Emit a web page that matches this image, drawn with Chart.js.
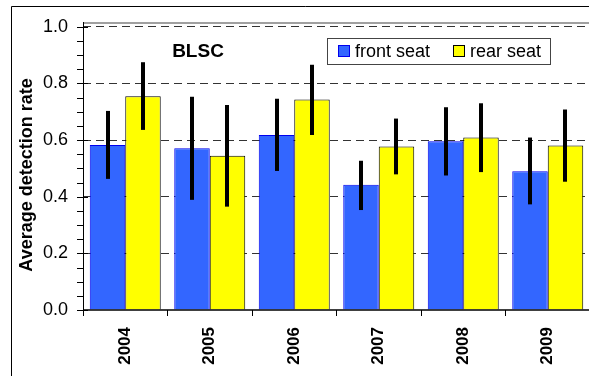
<!DOCTYPE html>
<html>
<head>
<meta charset="utf-8">
<script src="https://cdn.jsdelivr.net/npm/chart.js@4.4.1/dist/chart.umd.min.js"></script>
<style>
html,body{margin:0;padding:0;background:#fff;overflow:hidden;}
#wrap{position:absolute;left:0;top:0;width:600px;height:390px;}
canvas{display:block;}
</style>
</head>
<body>
<div id="wrap"><canvas id="c" width="600" height="390" style="width:600px;height:390px"></canvas></div>
<script>
const years = ['2004','2005','2006','2007','2008','2009'];
const frontSeat = [0.583, 0.571, 0.618, 0.442, 0.596, 0.490];
const frontLow  = [0.463, 0.389, 0.491, 0.353, 0.475, 0.373];
const frontHigh = [0.703, 0.753, 0.746, 0.527, 0.716, 0.609];
const rearSeat  = [0.755, 0.545, 0.743, 0.577, 0.609, 0.581];
const rearLow   = [0.636, 0.365, 0.618, 0.479, 0.487, 0.453];
const rearHigh  = [0.875, 0.724, 0.866, 0.676, 0.730, 0.708];
const seriesNames = ['front seat', 'rear seat'];
const panelTitle = 'BLSC';
const yTitle = 'Average detection rate';

const FONT = '"Liberation Sans", Arial, sans-serif';
const isMajor = v => Math.abs(v / 0.2 - Math.round(v / 0.2)) < 1e-6;

const overlay = {
  id: 'overlay',
  afterDatasetsDraw(chart) {
    const ctx = chart.ctx, ys = chart.scales.y;
    ctx.save();
    ctx.strokeStyle = '#000';
    ctx.lineWidth = 4;
    ctx.lineCap = 'butt';
    chart.data.datasets.forEach((ds, di) => {
      const meta = chart.getDatasetMeta(di);
      meta.data.forEach((bar, i) => {
        const x = Math.round(bar.x);
        ctx.beginPath();
        ctx.moveTo(x, ys.getPixelForValue(ds.errHigh[i]));
        ctx.lineTo(x, ys.getPixelForValue(ds.errLow[i]));
        ctx.stroke();
      });
    });
    ctx.restore();
  },
  afterDraw(chart) {
    const ctx = chart.ctx, a = chart.chartArea, ys = chart.scales.y;
    ctx.save();
    // grey top border of plot area
    ctx.strokeStyle = '#a0a0a0';
    ctx.lineWidth = 2;
    ctx.beginPath();
    ctx.moveTo(a.left, a.top + 1);
    ctx.lineTo(a.right, a.top + 1);
    ctx.stroke();
    // y axis line
    ctx.strokeStyle = '#000';
    ctx.lineWidth = 1;
    ctx.beginPath();
    ctx.moveTo(a.left + 0.5, a.top);
    ctx.lineTo(a.left + 0.5, a.bottom);
    ctx.stroke();
    // y tick marks
    ys.ticks.forEach(t => {
      const p = Math.round(ys.getPixelForValue(t.value)) + 0.5;
      ctx.beginPath();
      ctx.moveTo(a.left - 6, p);
      ctx.lineTo(isMajor(t.value) ? a.left + 5 : a.left, p);
      ctx.stroke();
    });
    // x axis baseline
    ctx.lineWidth = 1.5;
    const y0 = ys.getPixelForValue(0);
    ctx.beginPath();
    ctx.moveTo(a.left, y0);
    ctx.lineTo(a.right, y0);
    ctx.stroke();
    // outer frame
    ctx.lineWidth = 1;
    ctx.beginPath();
    ctx.moveTo(11.5, 400);
    ctx.lineTo(11.5, 6.5);
    ctx.lineTo(600, 6.5);
    ctx.stroke();
    // y title
    ctx.fillStyle = '#000';
    ctx.font = 'bold 18px ' + FONT;
    ctx.textAlign = 'center';
    ctx.textBaseline = 'middle';
    ctx.save();
    ctx.translate(27, 175);
    ctx.rotate(-Math.PI / 2);
    ctx.fillText(yTitle, 0, 0);
    ctx.restore();
    // panel title
    ctx.font = 'bold 19px ' + FONT;
    ctx.textBaseline = 'alphabetic';
    ctx.fillText(panelTitle, 198, 57);
    // legend
    ctx.fillStyle = '#fff';
    ctx.fillRect(327, 38, 223, 26);
    ctx.strokeStyle = '#444';
    ctx.lineWidth = 1;
    ctx.strokeRect(327.5, 38.5, 223, 26);
    const lx = [338, 453];
    chart.data.datasets.forEach((ds, i) => {
      ctx.fillStyle = ds.backgroundColor;
      ctx.fillRect(lx[i], 45, 12, 12);
      ctx.strokeStyle = ds.borderColor;
      ctx.strokeRect(lx[i] + 0.5, 45.5, 11, 11);
      ctx.fillStyle = '#000';
      ctx.font = '18px ' + FONT;
      ctx.textAlign = 'left';
      ctx.fillText(ds.label, lx[i] + 17, 57);
    });
    ctx.restore();
  }
};

new Chart(document.getElementById('c'), {
  type: 'bar',
  data: {
    labels: years,
    datasets: [
      { label: seriesNames[0], data: frontSeat, errLow: frontLow, errHigh: frontHigh,
        backgroundColor: '#3366ff', borderColor: '#0000ee', borderWidth: 1 },
      { label: seriesNames[1], data: rearSeat, errLow: rearLow, errHigh: rearHigh,
        backgroundColor: '#ffff00', borderColor: '#000000', borderWidth: 1 }
    ]
  },
  options: {
    responsive: false,
    animation: false,
    devicePixelRatio: 1,
    categoryPercentage: 0.84,
    barPercentage: 1.0,
    layout: { padding: { left: 0, top: 22, right: 10, bottom: 0 } },
    plugins: { legend: { display: false }, tooltip: { enabled: false } },
    scales: {
      x: {
        grid: { display: true, drawOnChartArea: false, drawTicks: true, tickLength: 6,
                color: '#000', tickColor: '#000', offset: true },
        border: { display: false },
        ticks: { maxRotation: 90, minRotation: 90, padding: 11, color: '#000',
                 font: { family: FONT, size: 17, weight: 'bold' } },
        afterFit(s) { s.height = 80; s.paddingLeft = 0; s.paddingRight = 0; }
      },
      y: {
        min: 0, max: 1.017,
        grid: {
          drawTicks: false,
          lineWidth: 1,
          color: ctx => (ctx.tick && isMajor(ctx.tick.value) && ctx.tick.value > 0) ? '#333' : 'rgba(0,0,0,0)'
        },
        border: { display: false, dash: [8, 5] },
        ticks: {
          stepSize: 0.05, includeBounds: false, autoSkip: false, padding: 15, color: '#000',
          font: { family: FONT, size: 18 },
          callback: v => isMajor(v) ? v.toFixed(1) : ''
        },
        afterFit(s) { s.width = 83; s.paddingTop = 0; s.paddingBottom = 0; }
      }
    }
  },
  plugins: [overlay]
});
</script>
</body>
</html>
